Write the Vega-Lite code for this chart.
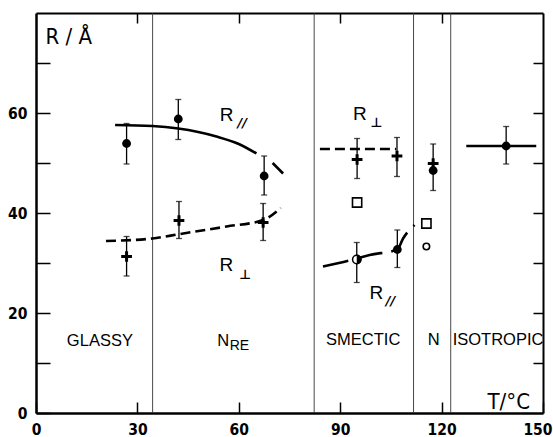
{
  "$schema": "https://vega.github.io/schema/vega-lite/v6.json",
  "width": 507,
  "height": 400,
  "autosize": {"type": "none"},
  "padding": {"left": 36, "top": 13, "right": 10, "bottom": 24},
  "background": "white",
  "config": {"view": {"stroke": null}, "font": "Liberation Sans"},
  "datasets": {
    "bounds": [{"T": 34.5}, {"T": 82.3}, {"T": 111.7}, {"T": 122.7}],
    "points": [
      {"kind": "R_par", "T": 26.8, "R": 53.9, "lo": 49.8, "hi": 57.9},
      {"kind": "R_par", "T": 42.1, "R": 58.8, "lo": 54.7, "hi": 62.7},
      {"kind": "R_par", "T": 67.5, "R": 47.4, "lo": 43.6, "hi": 51.4},
      {"kind": "R_par_half", "T": 94.9, "R": 30.7, "lo": 26.1, "hi": 34.1},
      {"kind": "R_par", "T": 106.9, "R": 32.7, "lo": 29.1, "hi": 36.6},
      {"kind": "R_par", "T": 117.5, "R": 48.5, "lo": 44.5, "hi": 53.8},
      {"kind": "R_par", "T": 139.1, "R": 53.4, "lo": 49.8, "hi": 57.3},
      {"kind": "R_perp", "T": 26.8, "R": 31.3, "lo": 27.4, "hi": 35.3},
      {"kind": "R_perp", "T": 42.3, "R": 38.5, "lo": 34.9, "hi": 42.3},
      {"kind": "R_perp", "T": 67.2, "R": 38.1, "lo": 34.5, "hi": 41.9},
      {"kind": "R_perp", "T": 95.0, "R": 50.7, "lo": 46.9, "hi": 54.9},
      {"kind": "R_perp", "T": 106.8, "R": 51.4, "lo": 47.3, "hi": 55.1},
      {"kind": "R_perp", "T": 117.5, "R": 49.9},
      {"kind": "square", "T": 95.0, "R": 42.1},
      {"kind": "square", "T": 115.5, "R": 37.9},
      {"kind": "open_circle", "T": 115.5, "R": 33.3}
    ],
    "fit_solid": [
      {"fit": "par_a", "T": 23.4, "R": 57.6},
      {"fit": "par_a", "T": 34.4, "R": 57.4},
      {"fit": "par_a", "T": 42.1, "R": 56.9},
      {"fit": "par_a", "T": 53.4, "R": 55.3},
      {"fit": "par_a", "T": 60.0, "R": 53.8},
      {"fit": "par_a", "T": 65.2, "R": 51.9},
      {"fit": "par_b", "T": 70.0, "R": 50.0},
      {"fit": "par_b", "T": 73.1, "R": 47.9},
      {"fit": "iso", "T": 127.3, "R": 53.4},
      {"fit": "iso", "T": 148.0, "R": 53.4}
    ],
    "fit_dash": [
      {"fit": "perp_a", "T": 20.7, "R": 34.4},
      {"fit": "perp_a", "T": 34.4, "R": 34.9},
      {"fit": "perp_a", "T": 42.6, "R": 35.8},
      {"fit": "perp_a", "T": 56.4, "R": 37.3},
      {"fit": "perp_a", "T": 67.2, "R": 38.6},
      {"fit": "perp_a", "T": 72.4, "R": 41.0},
      {"fit": "perp_b", "T": 84.0, "R": 52.8},
      {"fit": "perp_b", "T": 106.5, "R": 52.8}
    ],
    "fit_long": [
      {"fit": "par_s", "T": 84.9, "R": 29.3},
      {"fit": "par_s", "T": 93.8, "R": 30.7},
      {"fit": "par_s", "T": 98.7, "R": 31.6},
      {"fit": "par_s", "T": 106.9, "R": 32.7},
      {"fit": "par_s", "T": 108.6, "R": 34.9},
      {"fit": "par_s", "T": 112.0, "R": 37.6}
    ],
    "curve_labels": [
      {"T": 56.4, "R": 59.6, "text": "R"},
      {"T": 56.3, "R": 29.6, "text": "R"},
      {"T": 95.8, "R": 59.9, "text": "R"},
      {"T": 100.7, "R": 24.1, "text": "R"}
    ],
    "curve_subs": [
      {"T": 61.0, "R": 58.1, "text": "//"},
      {"T": 61.9, "R": 27.6, "text": "⊥"},
      {"T": 100.7, "R": 58.0, "text": "⊥"},
      {"T": 104.9, "R": 22.4, "text": "//"}
    ],
    "phase_labels": [
      {"T": 18.9, "R": 14.4, "text": "GLASSY"},
      {"T": 55.4, "R": 14.4, "text": "N"},
      {"T": 96.8, "R": 14.6, "text": "SMECTIC"},
      {"T": 117.7, "R": 14.6, "text": "N"},
      {"T": 136.7, "R": 14.6, "text": "ISOTROPIC"}
    ],
    "phase_subs": [
      {"T": 60.2, "R": 13.4, "text": "RE"}
    ]
  },
  "resolve": {"axis": {"x": "independent", "y": "independent"}},
  "layer": [
    {
      "data": {"name": "bounds"},
      "mark": {"type": "rule", "color": "#333333", "strokeWidth": 0.9},
      "encoding": {
        "x": {"field": "T", "type": "quantitative", "scale": {"domain": [0, 150], "nice": false}, "axis": null}
      }
    },
    {
      "data": {"name": "fit_solid"},
      "mark": {"type": "line", "color": "black", "strokeWidth": 2.6, "interpolate": "monotone"},
      "encoding": {
        "x": {"field": "T", "type": "quantitative", "scale": {"domain": [0, 150], "nice": false}, "axis": null},
        "y": {"field": "R", "type": "quantitative", "scale": {"domain": [0, 80], "nice": false}, "axis": null},
        "detail": {"field": "fit"},
        "order": {"field": "T"}
      }
    },
    {
      "data": {"name": "fit_dash"},
      "mark": {"type": "line", "color": "black", "strokeWidth": 2.6, "interpolate": "monotone", "strokeDash": [10, 5]},
      "encoding": {
        "x": {"field": "T", "type": "quantitative", "scale": {"domain": [0, 150], "nice": false}, "axis": null},
        "y": {"field": "R", "type": "quantitative", "scale": {"domain": [0, 80], "nice": false}, "axis": null},
        "detail": {"field": "fit"},
        "order": {"field": "T"}
      }
    },
    {
      "data": {"name": "fit_long"},
      "mark": {"type": "line", "color": "black", "strokeWidth": 2.6, "interpolate": "monotone", "strokeDash": [26, 9]},
      "encoding": {
        "x": {"field": "T", "type": "quantitative", "scale": {"domain": [0, 150], "nice": false}, "axis": null},
        "y": {"field": "R", "type": "quantitative", "scale": {"domain": [0, 80], "nice": false}, "axis": null},
        "detail": {"field": "fit"},
        "order": {"field": "T"}
      }
    },
    {
      "data": {"name": "points"},
      "transform": [{"filter": "isValid(datum.lo)"}],
      "mark": {"type": "errorbar", "ticks": {"size": 6}, "thickness": 1.3, "color": "black"},
      "encoding": {
        "x": {"field": "T", "type": "quantitative", "scale": {"domain": [0, 150], "nice": false}, "axis": null},
        "y": {"field": "lo", "type": "quantitative", "scale": {"domain": [0, 80], "nice": false}, "axis": null},
        "y2": {"field": "hi"}
      }
    },
    {
      "data": {"name": "points"},
      "transform": [{"filter": "datum.kind === 'R_par'"}],
      "mark": {"type": "point", "shape": "circle", "filled": true, "color": "black", "opacity": 1, "size": 78},
      "encoding": {
        "x": {"field": "T", "type": "quantitative", "scale": {"domain": [0, 150], "nice": false},
          "axis": {"orient": "bottom", "values": [0, 30, 60, 90, 120, 150], "grid": false,
            "tickSize": -11, "tickWidth": 1.5, "tickColor": "black", "domainColor": "black", "domainWidth": 2.5,
            "labelPadding": 20, "labelFont": "DejaVu Sans Condensed", "labelFontWeight": "bold", "labelFontSize": 15.5,
            "labelColor": "black", "labelBaseline": "top", "labelFlush": false, "labelOverlap": false,
            "labelAlign": {"condition": {"test": "datum.value === 150", "value": "right"}, "value": "center"},
            "labelOffset": {"condition": {"test": "datum.value === 150", "value": 9}, "value": 0},
            "title": "T/°C", "titleX": 451, "titleY": -5, "titleAlign": "left", "titleBaseline": "alphabetic",
            "titleFont": "DejaVu Sans Condensed", "titleFontSize": 22, "titleFontWeight": "normal", "titleColor": "black"}},
        "y": {"field": "R", "type": "quantitative", "scale": {"domain": [0, 80], "nice": false},
          "axis": {"orient": "left", "values": [0, 10, 20, 30, 40, 50, 60, 70], "grid": false,
            "labelExpr": "datum.value % 20 === 0 ? datum.label : ''",
            "tickSize": -14, "tickWidth": 1.5, "tickColor": "black", "domainColor": "black", "domainWidth": 2.5,
            "labelPadding": 23, "labelFont": "DejaVu Sans Condensed", "labelFontWeight": "bold", "labelFontSize": 15.5,
            "labelColor": "black", "labelFlush": false, "labelOverlap": false,
            "title": "R / Å", "titleAngle": 0, "titleX": 9, "titleY": 30, "titleAlign": "left", "titleBaseline": "alphabetic",
            "titleFont": "DejaVu Sans Condensed", "titleFontSize": 22, "titleFontWeight": "normal", "titleColor": "black"}}
      }
    },
    {
      "data": {"name": "points"},
      "transform": [{"filter": "datum.kind === 'R_par_half'"}],
      "mark": {"type": "point", "shape": "circle", "filled": false, "fill": "white", "stroke": "black", "strokeWidth": 1.5, "opacity": 1, "size": 70},
      "encoding": {
        "x": {"field": "T", "type": "quantitative", "scale": {"domain": [0, 150], "nice": false}, "axis": null},
        "y": {"field": "R", "type": "quantitative", "scale": {"domain": [0, 80], "nice": false}, "axis": null}
      }
    },
    {
      "data": {"name": "points"},
      "transform": [{"filter": "datum.kind === 'R_par_half'"}],
      "mark": {"type": "point", "shape": "M0,-1A1,1 0 0,1 0,1Z", "filled": true, "color": "black", "opacity": 1, "size": 90},
      "encoding": {
        "x": {"field": "T", "type": "quantitative", "scale": {"domain": [0, 150], "nice": false}, "axis": null},
        "y": {"field": "R", "type": "quantitative", "scale": {"domain": [0, 80], "nice": false}, "axis": null}
      }
    },
    {
      "data": {"name": "points"},
      "transform": [{"filter": "datum.kind === 'R_perp'"}],
      "mark": {"type": "point", "shape": "M-1,0H1M0,-1V1", "filled": false, "stroke": "black", "strokeWidth": 3, "opacity": 1, "size": 115},
      "encoding": {
        "x": {"field": "T", "type": "quantitative", "scale": {"domain": [0, 150], "nice": false}, "axis": null},
        "y": {"field": "R", "type": "quantitative", "scale": {"domain": [0, 80], "nice": false}, "axis": null}
      }
    },
    {
      "data": {"name": "points"},
      "transform": [{"filter": "datum.kind === 'square'"}],
      "mark": {"type": "point", "shape": "square", "filled": false, "fill": "white", "stroke": "black", "strokeWidth": 1.6, "opacity": 1, "size": 85},
      "encoding": {
        "x": {"field": "T", "type": "quantitative", "scale": {"domain": [0, 150], "nice": false},
          "axis": {"orient": "top", "values": [30, 60, 90, 120], "grid": false, "labels": false, "title": null,
            "tickSize": -10, "tickWidth": 1.5, "tickColor": "black", "domainColor": "black", "domainWidth": 2}},
        "y": {"field": "R", "type": "quantitative", "scale": {"domain": [0, 80], "nice": false},
          "axis": {"orient": "right", "values": [10, 20, 30, 40, 50, 60, 70], "grid": false, "labels": false, "title": null,
            "tickSize": -10, "tickWidth": 1.5, "tickColor": "black", "domainColor": "black", "domainWidth": 2}}
      }
    },
    {
      "data": {"name": "points"},
      "transform": [{"filter": "datum.kind === 'open_circle'"}],
      "mark": {"type": "point", "shape": "circle", "filled": false, "fill": "white", "stroke": "black", "strokeWidth": 1.6, "opacity": 1, "size": 42},
      "encoding": {
        "x": {"field": "T", "type": "quantitative", "scale": {"domain": [0, 150], "nice": false}, "axis": null},
        "y": {"field": "R", "type": "quantitative", "scale": {"domain": [0, 80], "nice": false}, "axis": null}
      }
    },
    {
      "data": {"name": "curve_labels"},
      "mark": {"type": "text", "font": "Liberation Sans", "fontSize": 19, "color": "black", "align": "center", "baseline": "middle"},
      "encoding": {
        "x": {"field": "T", "type": "quantitative", "scale": {"domain": [0, 150], "nice": false}, "axis": null},
        "y": {"field": "R", "type": "quantitative", "scale": {"domain": [0, 80], "nice": false}, "axis": null},
        "text": {"field": "text"}
      }
    },
    {
      "data": {"name": "curve_subs"},
      "mark": {"type": "text", "font": "DejaVu Sans", "fontSize": 13, "fontStyle": "italic", "fontWeight": "bold", "color": "black", "align": "center", "baseline": "middle"},
      "encoding": {
        "x": {"field": "T", "type": "quantitative", "scale": {"domain": [0, 150], "nice": false}, "axis": null},
        "y": {"field": "R", "type": "quantitative", "scale": {"domain": [0, 80], "nice": false}, "axis": null},
        "text": {"field": "text"}
      }
    },
    {
      "data": {"name": "phase_labels"},
      "mark": {"type": "text", "font": "Liberation Sans", "fontSize": 16.5, "color": "black", "align": "center", "baseline": "middle"},
      "encoding": {
        "x": {"field": "T", "type": "quantitative", "scale": {"domain": [0, 150], "nice": false}, "axis": null},
        "y": {"field": "R", "type": "quantitative", "scale": {"domain": [0, 80], "nice": false}, "axis": null},
        "text": {"field": "text"}
      }
    },
    {
      "data": {"name": "phase_subs"},
      "mark": {"type": "text", "font": "Liberation Sans", "fontSize": 14, "color": "black", "align": "center", "baseline": "middle"},
      "encoding": {
        "x": {"field": "T", "type": "quantitative", "scale": {"domain": [0, 150], "nice": false}, "axis": null},
        "y": {"field": "R", "type": "quantitative", "scale": {"domain": [0, 80], "nice": false}, "axis": null},
        "text": {"field": "text"}
      }
    }
  ]
}
